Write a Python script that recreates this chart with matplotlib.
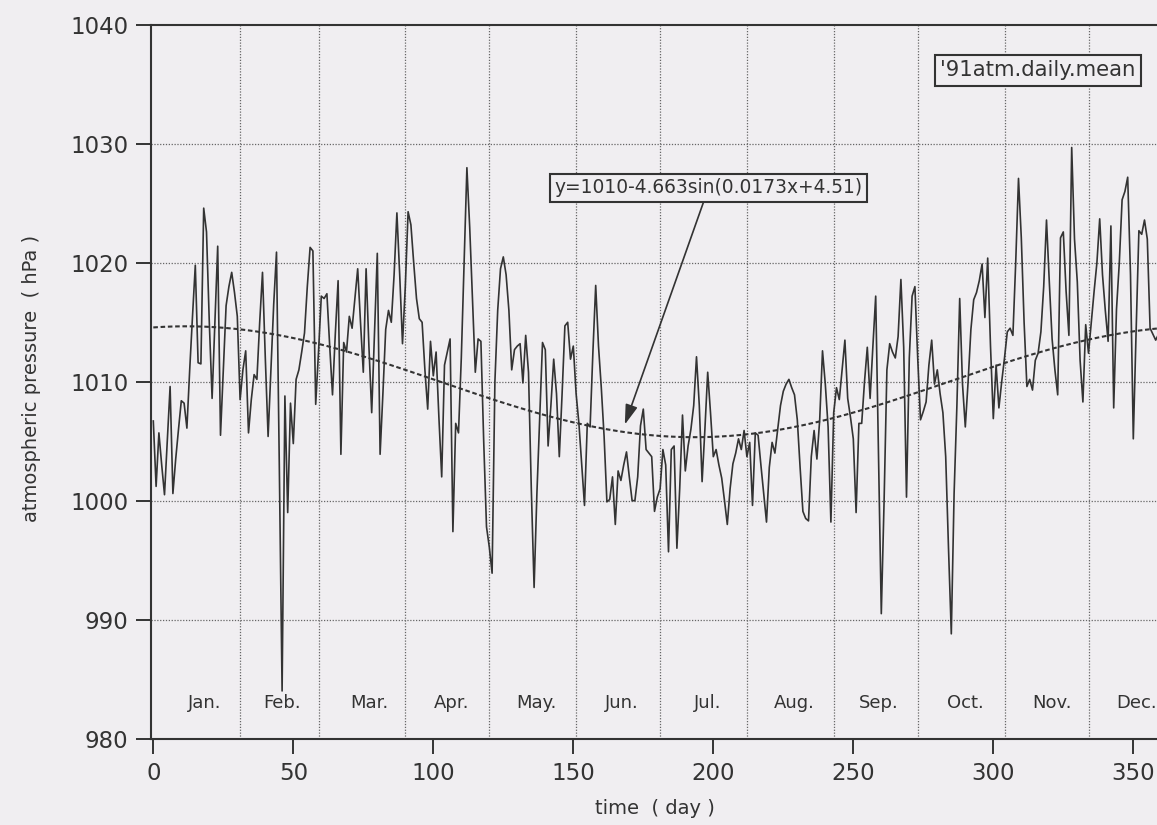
import numpy as np
import matplotlib
matplotlib.use("Agg")
import matplotlib.pyplot as plt

# 1991 daily mean atmospheric pressure (hPa), day 0 = 1 Jan
pressure = [
    1006.7, 1001.2, 1005.7, 1003.0, 1000.5, 1005.0, 1009.6, 1000.6, 1003.5, 1006.0,
    1008.4, 1008.2, 1006.1, 1011.0, 1015.5, 1019.8, 1011.6, 1011.5, 1024.6, 1022.6,
    1015.0, 1008.6, 1015.0, 1021.4, 1005.5, 1011.0, 1016.4, 1018.0, 1019.2, 1017.5,
    1015.5, 1008.5, 1011.0, 1012.6, 1005.7, 1008.5, 1010.6, 1010.2, 1015.0, 1019.2,
    1012.0, 1005.4, 1011.0, 1016.5, 1020.9, 1003.0, 984.0, 1008.8, 999.0, 1008.2,
    1004.8, 1010.2, 1011.0, 1012.5, 1014.1, 1018.0, 1021.3, 1021.0, 1008.1, 1012.5,
    1017.2, 1017.0, 1017.4, 1013.0, 1008.9, 1014.0, 1018.5, 1003.9, 1013.3, 1012.5,
    1015.5, 1014.5, 1017.0, 1019.5, 1015.0, 1010.8, 1019.5, 1013.0, 1007.4, 1014.0,
    1020.8, 1003.9, 1009.0, 1014.4, 1016.0, 1015.0, 1019.0, 1024.2, 1019.0, 1013.2,
    1018.0, 1024.3, 1023.2, 1020.0, 1017.0, 1015.3, 1015.0, 1011.0, 1007.7, 1013.4,
    1010.5, 1012.5, 1007.0, 1002.0, 1011.4, 1012.5, 1013.6, 997.4, 1006.5, 1005.7,
    1012.0, 1020.0, 1028.0, 1023.0, 1017.0, 1010.8, 1013.6, 1013.4, 1005.0, 997.8,
    996.1, 993.9, 1010.0, 1016.0, 1019.5, 1020.5, 1019.0, 1016.0, 1011.0, 1012.7,
    1013.0, 1013.2, 1009.9, 1013.9, 1010.8, 1001.0, 992.7, 1000.6, 1007.0, 1013.3,
    1012.7, 1004.6, 1008.0, 1011.9, 1009.0, 1003.7, 1009.0, 1014.7, 1015.0, 1011.9,
    1013.0, 1009.0, 1006.5, 1003.0, 999.6, 1006.5, 1006.2, 1012.5, 1018.1, 1013.0,
    1009.5, 1005.4, 999.9, 1000.1, 1002.0, 998.0, 1002.5, 1001.7, 1003.0, 1004.1,
    1002.0, 1000.0, 1000.0, 1002.0, 1006.3, 1007.7, 1004.3, 1004.0, 1003.7, 999.1,
    1000.3, 1001.0, 1004.3, 1003.0, 995.7, 1004.3, 1004.6, 996.0, 1001.0, 1007.2,
    1002.5, 1004.6, 1006.0, 1008.0, 1012.1, 1008.0, 1001.6, 1006.0, 1010.8, 1007.4,
    1003.7, 1004.3, 1003.0, 1001.9, 1000.0, 998.0, 1001.0, 1003.1, 1004.0, 1005.2,
    1004.3, 1005.9, 1003.7, 1004.9, 999.6, 1005.7, 1005.5, 1003.0, 1000.6, 998.2,
    1002.8, 1004.9, 1004.0, 1006.0, 1008.0, 1009.2, 1009.8, 1010.2, 1009.5, 1008.9,
    1006.8, 1002.8, 999.1, 998.5, 998.3, 1003.7, 1005.9, 1003.5, 1006.8, 1012.6,
    1009.8, 1006.2, 998.2, 1007.4, 1009.5, 1008.5, 1011.0, 1013.5, 1008.6, 1007.0,
    1005.2, 999.0, 1006.5, 1006.5, 1010.0, 1012.9, 1008.6, 1013.0, 1017.2, 1004.0,
    990.5, 1000.0, 1011.0, 1013.2, 1012.5, 1012.0, 1013.8, 1018.6, 1012.9, 1000.3,
    1012.0, 1017.2, 1018.0, 1012.0, 1006.8, 1007.5, 1008.3, 1011.4, 1013.5, 1009.8,
    1011.0, 1009.0, 1007.4, 1003.7, 996.0, 988.8, 1000.6, 1008.0, 1017.0, 1009.8,
    1006.2, 1010.0, 1014.4, 1016.9, 1017.5, 1018.5, 1019.9, 1015.4, 1020.4, 1013.0,
    1006.9, 1011.4, 1007.8, 1010.0, 1012.0, 1014.2, 1014.5, 1013.9, 1020.0, 1027.1,
    1022.1, 1015.0, 1009.6, 1010.2, 1009.3, 1011.8, 1012.4, 1014.2, 1018.0, 1023.6,
    1018.4, 1013.6, 1011.0, 1008.9, 1022.1, 1022.6, 1017.6, 1013.9, 1029.7, 1022.0,
    1018.4, 1011.8, 1008.3, 1014.8, 1012.4, 1015.0, 1017.6, 1020.0, 1023.7, 1019.0,
    1016.0, 1013.4, 1023.1, 1007.8, 1016.1, 1020.0, 1025.3, 1026.0, 1027.2, 1019.0,
    1005.2, 1014.2, 1022.7, 1022.4, 1023.6, 1022.0, 1014.5, 1014.0, 1013.5, 1014.0,
]
days = np.arange(len(pressure))

# sinusoidal fit  y = A - B*sin(w*x + phi)
fit_a, fit_b, fit_w, fit_phi = 1010.0, 4.663, 0.0173, 4.51
fit_label = "y=1010-4.663sin(0.0173x+4.51)"

month_names = ["Jan.", "Feb.", "Mar.", "Apr.", "May.", "Jun.",
               "Jul.", "Aug.", "Sep.", "Oct.", "Nov.", "Dec."]
month_label_day = [18.5, 46, 77, 106.5, 137, 167.5, 198, 229, 259, 290, 321, 351]
month_bounds = [31, 59, 90, 120, 151, 181, 212, 243, 273, 304, 334]

x_ticks = [0, 50, 100, 150, 200, 250, 300, 350]
y_ticks = [980, 990, 1000, 1010, 1020, 1030, 1040]

INK = "#333333"
GRID = "#666666"
BG = "#f0eef1"
W, H = 1157, 825

fig = plt.figure(figsize=(W / 100, H / 100), dpi=100, facecolor=BG)
x_left, x_right = -1, 366
px_left, px_right = 150.5, 1178.1
px_top, px_bottom = 25.0, 738.5
ax = fig.add_axes([px_left / W, 1 - px_bottom / H,
                   (px_right - px_left) / W, (px_bottom - px_top) / H])
ax.set_facecolor(BG)
ax.set_xlim(x_left, x_right)
ax.set_ylim(980, 1040)

# dotted grid: pressure levels and month boundaries
for yv in y_ticks[1:-1]:
    ax.axhline(yv, color=GRID, lw=0.9, ls=(0, (1, 1.3)), zorder=1)
for xv in month_bounds:
    ax.axvline(xv, color=GRID, lw=0.9, ls=(0, (1, 1.3)), zorder=1)

# daily means
ax.plot(days, pressure, color=INK, lw=1.2, zorder=3)

# fitted curve
xf = np.linspace(0, 365, 600)
yf = fit_a - fit_b * np.sin(fit_w * xf + fit_phi)
ax.plot(xf, yf, color=INK, lw=1.5, ls=(0, (2.2, 1.3)), zorder=4)

# month names along the bottom
for name, d in zip(month_names, month_label_day):
    ax.text(d, 983.0, name, ha="center", va="center", fontsize=13, color=INK)

# boxed annotations
box = dict(boxstyle="square,pad=0.25", fc=BG, ec=INK, lw=1.5)
ax.text(316, 1036.2, "'91atm.daily.mean", ha="center", va="center",
        fontsize=15.3, color=INK, bbox=box, zorder=6)
ax.annotate(fit_label, xy=(168.4, 1006.4), xytext=(198.3, 1026.3),
            ha="center", va="center", fontsize=13.4, color=INK,
            bbox=box, zorder=6,
            arrowprops=dict(arrowstyle="-|>,head_length=0.9,head_width=0.28",
                            color=INK, lw=1.2, shrinkA=0, shrinkB=0))

# axes styling
for side in ("left", "top", "bottom"):
    ax.spines[side].set_color(INK)
    ax.spines[side].set_linewidth(1.5)
ax.spines["right"].set_visible(False)
ax.set_xticks(x_ticks)
ax.set_yticks(y_ticks)
ax.tick_params(direction="out", length=11, width=1.4, colors=INK,
               labelsize=16.5, pad=5)
ax.tick_params(axis="x", pad=6)

fig.text(32 / W, 1 - 378 / H, "atmospheric pressure  ( hPa )", rotation=90,
         ha="center", va="center", fontsize=14, color=INK)
fig.text(655 / W, 1 - 809 / H, "time  ( day )", ha="center", va="center",
         fontsize=14, color=INK)

fig.savefig("out.png", dpi=100, facecolor=BG)
